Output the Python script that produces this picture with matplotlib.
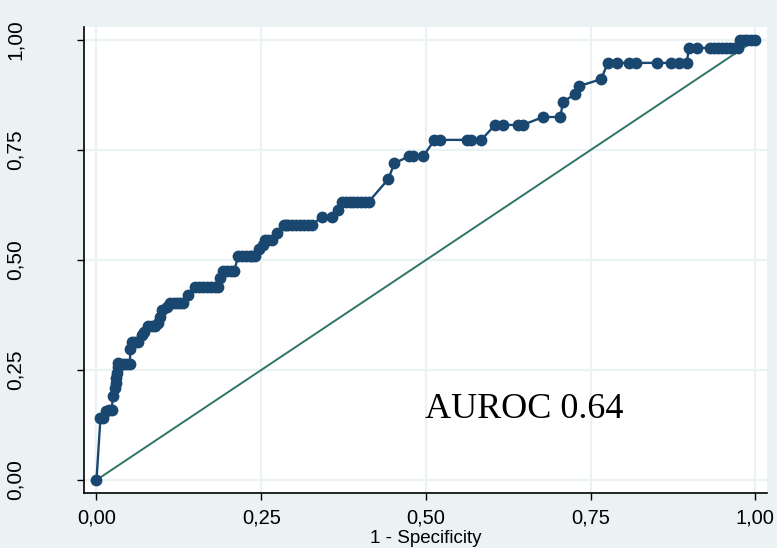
import numpy as np
import matplotlib.pyplot as plt

# ROC curve points (1 - specificity, sensitivity)
fpr = [0.000, 0.006, 0.010, 0.014, 0.019, 0.023, 0.025, 0.028, 0.029, 0.029,
       0.031, 0.032, 0.032, 0.037, 0.042, 0.046, 0.051, 0.051, 0.054, 0.058,
       0.063, 0.069, 0.072, 0.078, 0.084, 0.089, 0.093, 0.096, 0.099, 0.107,
       0.111, 0.117, 0.122, 0.127, 0.131, 0.139, 0.149, 0.155, 0.161, 0.167,
       0.174, 0.180, 0.184, 0.187, 0.192, 0.198, 0.204, 0.209, 0.215, 0.221,
       0.227, 0.233, 0.236, 0.241, 0.246, 0.252, 0.256, 0.261, 0.267, 0.274,
       0.284, 0.287, 0.291, 0.297, 0.303, 0.309, 0.315, 0.321, 0.327, 0.342,
       0.357, 0.366, 0.372, 0.378, 0.384, 0.390, 0.396, 0.402, 0.408, 0.413,
       0.443, 0.452, 0.475, 0.481, 0.496, 0.513, 0.522, 0.562, 0.568, 0.584,
       0.605, 0.617, 0.640, 0.647, 0.678, 0.704, 0.708, 0.726, 0.732, 0.766,
       0.776, 0.790, 0.808, 0.819, 0.851, 0.872, 0.884, 0.896, 0.899, 0.911,
       0.931, 0.937, 0.943, 0.949, 0.955, 0.961, 0.967, 0.973, 0.976, 0.982,
       0.988, 0.994, 1.000]
tpr = [0.000, 0.141, 0.141, 0.157, 0.159, 0.159, 0.191, 0.209, 0.220, 0.232,
       0.243, 0.257, 0.266, 0.264, 0.264, 0.264, 0.264, 0.298, 0.314, 0.314,
       0.314, 0.330, 0.336, 0.350, 0.350, 0.350, 0.357, 0.370, 0.386, 0.393,
       0.402, 0.402, 0.402, 0.402, 0.402, 0.420, 0.439, 0.439, 0.439, 0.439,
       0.439, 0.439, 0.439, 0.459, 0.475, 0.475, 0.475, 0.475, 0.509, 0.509,
       0.509, 0.509, 0.509, 0.509, 0.525, 0.534, 0.545, 0.545, 0.545, 0.561,
       0.580, 0.580, 0.580, 0.580, 0.580, 0.580, 0.580, 0.580, 0.580, 0.598,
       0.598, 0.614, 0.632, 0.632, 0.632, 0.632, 0.632, 0.632, 0.632, 0.632,
       0.684, 0.720, 0.736, 0.736, 0.736, 0.773, 0.773, 0.773, 0.773, 0.773,
       0.807, 0.807, 0.807, 0.807, 0.825, 0.825, 0.859, 0.877, 0.895, 0.911,
       0.948, 0.948, 0.948, 0.948, 0.948, 0.948, 0.948, 0.948, 0.982, 0.982,
       0.982, 0.982, 0.982, 0.982, 0.982, 0.982, 0.982, 0.982, 1.000, 1.000,
       1.000, 1.000, 1.000]

ticks = [0, 0.25, 0.5, 0.75, 1]
tick_labels = ['0,00', '0,25', '0,50', '0,75', '1,00']
auroc = 0.64

bg = '#EAF2F3'
navy = '#1A476F'
green = '#2E7466'
sans = ['Liberation Sans', 'DejaVu Sans']

fig = plt.figure(figsize=(7.77, 5.48), dpi=100, facecolor=bg)
ax = fig.add_axes([0.1085, 0.1004, 0.8785, 0.8503])
ax.set_facecolor('white')

ax.plot([0, 1], [0, 1], color=green, lw=1.4, zorder=2)
ax.plot(fpr, tpr, color=navy, lw=1.7, marker='o', ms=8.5,
        markeredgewidth=0, zorder=3)

ax.set_xlim(-0.0185, 1.0175)
ax.set_ylim(-0.0295, 1.0295)
ax.set_xticks(ticks)
ax.set_yticks(ticks)
ax.set_xticklabels(tick_labels, family=sans, fontsize=14.5)
ax.set_yticklabels(tick_labels, family=sans, fontsize=15,
                   rotation=90, va='center')
ax.tick_params(axis='x', length=5, width=1, pad=6)
ax.tick_params(axis='y', length=5, width=1, pad=38)
ax.grid(True, color=bg, lw=1.6, zorder=0)
ax.set_axisbelow(True)

for s in ['top', 'right']:
    ax.spines[s].set_visible(False)
for s in ['left', 'bottom']:
    ax.spines[s].set_linewidth(1.2)

ax.set_xlabel('1 - Specificity', family=sans, fontsize=13.5, labelpad=2)
ax.text(0.498, 0.14, 'AUROC %.2f' % auroc,
        family=['Liberation Serif', 'DejaVu Serif'],
        fontsize=26, ha='left', va='baseline')

fig.savefig('out.png', dpi=100, facecolor=bg)
